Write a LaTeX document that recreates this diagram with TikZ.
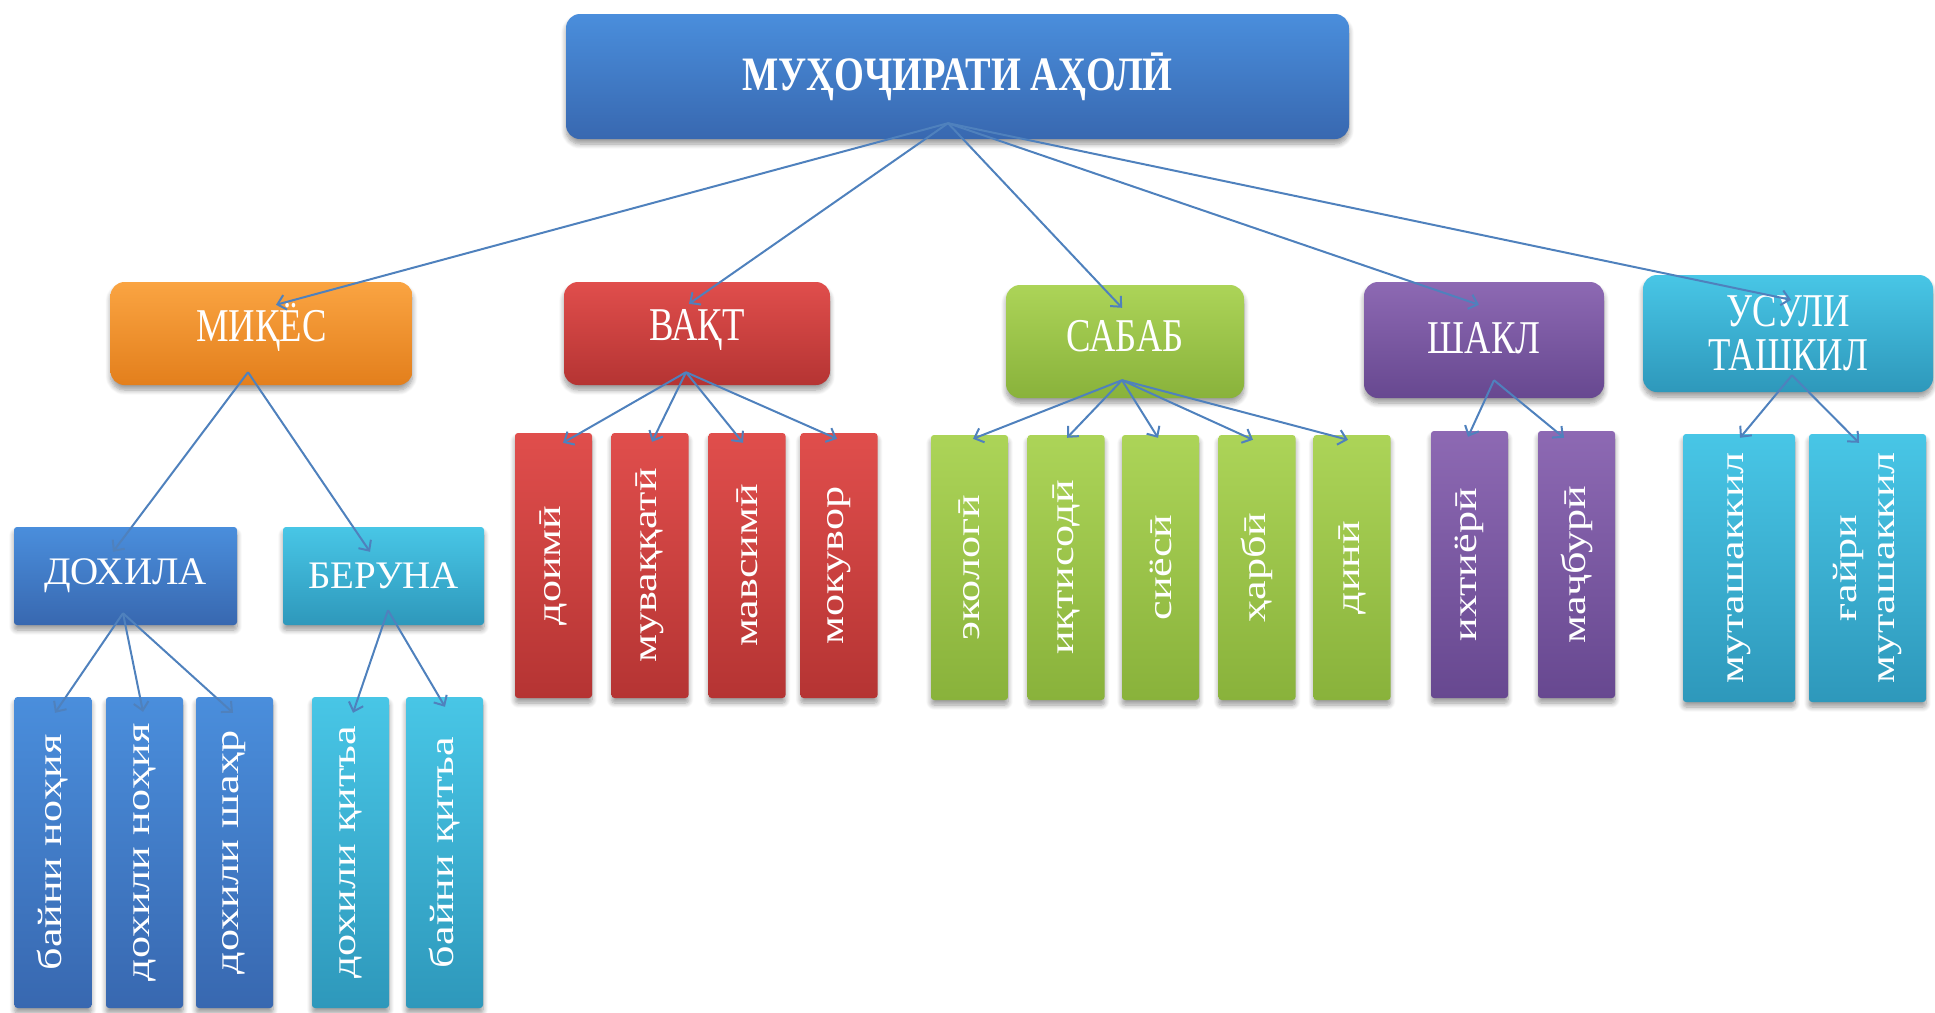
\documentclass[tikz,border=0pt]{standalone}
\usepackage{fontspec}
\setmainfont{Liberation Serif}
\newfontfamily\ttlfont[FakeStretch=0.8]{Liberation Serif}
\newfontfamily\lvfont[FakeStretch=0.78]{Liberation Serif}
\newfontfamily\vfont[FakeStretch=1.3]{Liberation Serif}
\usetikzlibrary{arrows.meta,shadows.blur,calc}
\definecolor{bluT}{HTML}{4A8EDC}
\definecolor{bluB}{HTML}{3868B0}
\definecolor{orgT}{HTML}{FAA442}
\definecolor{orgB}{HTML}{E37F1C}
\definecolor{redT}{HTML}{E04E4C}
\definecolor{redB}{HTML}{B53433}
\definecolor{grnT}{HTML}{ACD458}
\definecolor{grnB}{HTML}{89B23B}
\definecolor{prpT}{HTML}{8D69B3}
\definecolor{prpB}{HTML}{674890}
\definecolor{cynT}{HTML}{48C6E6}
\definecolor{cynB}{HTML}{2E98BB}
\definecolor{arrc}{HTML}{4F81BD}
\newcommand\upby[2]{\raisebox{#1}[\height][\depth]{#2}}
\tikzset{
  box/.style={draw=none, inner sep=0pt, text=white,
    blur shadow={shadow xshift=0pt, shadow yshift=-5pt, shadow blur radius=5pt, shadow blur steps=8, shadow opacity=40}},
  bigbox/.style={box, rounded corners=14pt},
  midbox/.style={box, rounded corners=3pt},
  bar/.style={box, rounded corners=3pt, minimum width=77pt},
  cblue/.style={top color=bluT, bottom color=bluB},
  corange/.style={top color=orgT, bottom color=orgB},
  cred/.style={top color=redT, bottom color=redB},
  cgreen/.style={top color=grnT, bottom color=grnB},
  cpurple/.style={top color=prpT, bottom color=prpB},
  ccyan/.style={top color=cynT, bottom color=cynB},
  lvtwo/.style={font=\lvfont\fontsize{47}{44}\selectfont, align=center},
  lvthree/.style={font=\fontsize{39}{42}\selectfont},
  vtxt/.style={rotate=90, text=white, inner sep=0pt, align=center,
    font=\vfont\fontsize{34}{38}\selectfont},
  arr/.style={draw=arrc, line width=2pt, -{Straight Barb[length=8pt,width=15pt]}}
}
\begin{document}
\begin{tikzpicture}[x=1pt,y=-1pt]
\useasboundingbox (0,0) rectangle (1935,1012);
\clip (0,0) rectangle (1935,1012);
% top
\node[bigbox, cblue, minimum width=783pt, minimum height=125pt,
  font=\ttlfont\bfseries\fontsize{48}{52}\selectfont] (top) at (957.5,76.5) {МУҲОҶИРАТИ АҲОЛӢ};
% level 2
\node[bigbox, corange, lvtwo, minimum width=302pt, minimum height=103pt] (mik) at (261.5,333.5) {\upby{6pt}{МИҚЁС}};
\node[bigbox, cred, lvtwo, minimum width=266pt, minimum height=103pt] (vaq) at (697,333.5) {\upby{4pt}{ВАҚТ}};
\node[bigbox, cgreen, lvtwo, minimum width=238pt, minimum height=113pt] (sab) at (1125,341.5) {\upby{5pt}{САБАБ}};
\node[bigbox, cpurple, lvtwo, minimum width=240pt, minimum height=116pt] (sha) at (1484,340) {\upby{2pt}{ШАКЛ}};
\node[bigbox, ccyan, lvtwo, minimum width=290pt, minimum height=117pt] (usu) at (1788,333.5) {УСУЛИ\\ТАШКИЛ};
% level 3
\node[midbox, cblue, lvthree, minimum width=223pt, minimum height=98pt] (dok) at (125.5,576) {ДОХИЛА};
\node[midbox, ccyan, lvthree, minimum width=201pt, minimum height=98pt] (ber) at (383.5,576) {БЕРУНА};
% red bars
\node[bar, cred, minimum height=265pt] (v1) at (553.5,565.5) {};
\node[bar, cred, minimum height=265pt] (v2) at (650,565.5) {};
\node[bar, cred, minimum height=265pt] (v3) at (747,565.5) {};
\node[bar, cred, minimum height=265pt] (v4) at (839,565.5) {};
% green bars
\node[bar, cgreen, minimum height=265pt] (g1) at (969.5,567.5) {};
\node[bar, cgreen, minimum height=265pt] (g2) at (1066,567.5) {};
\node[bar, cgreen, minimum height=265pt] (g3) at (1160.5,567.5) {};
\node[bar, cgreen, minimum height=265pt] (g4) at (1257,567.5) {};
\node[bar, cgreen, minimum height=265pt] (g5) at (1352,567.5) {};
% purple bars
\node[bar, cpurple, minimum height=267pt] (p1) at (1469.5,564.5) {};
\node[bar, cpurple, minimum height=267pt] (p2) at (1576.5,564.5) {};
% cyan bars right
\node[bar, ccyan, minimum width=112pt, minimum height=268pt] (c1) at (1739,568) {};
\node[bar, ccyan, minimum width=117pt, minimum height=268pt] (c2) at (1867.5,568) {};
% bottom bars
\node[bar, cblue, minimum height=311pt] (b1) at (53,852.5) {};
\node[bar, cblue, minimum height=311pt] (b2) at (144.5,852.5) {};
\node[bar, cblue, minimum height=311pt] (b3) at (234.5,852.5) {};
\node[bar, ccyan, minimum height=311pt] (b4) at (350.5,852.5) {};
\node[bar, ccyan, minimum height=311pt] (b5) at (444.5,852.5) {};
% vertical texts
\node[vtxt] (v1t) at (v1) {доимӣ};
\node[vtxt] (v2t) at (v2) {муваққатӣ};
\node[vtxt] (v3t) at (v3) {мавсимӣ};
\node[vtxt] (v4t) at (v4) {мокувор};
\node[vtxt] (g1t) at (g1) {экологӣ};
\node[vtxt] (g2t) at (g2) {иқтисодӣ};
\node[vtxt] (g3t) at (g3) {сиёсӣ};
\node[vtxt] (g4t) at (g4) {ҳарбӣ};
\node[vtxt] (g5t) at (g5) {динӣ};
\node[vtxt] (p1t) at (p1) {ихтиёрӣ};
\node[vtxt] (p2t) at (p2) {маҷбурӣ};
\node[vtxt] (c1t) at (c1) {муташаккил};
\node[vtxt] (c2t) at (c2) {ғайри\\муташаккил};
\node[vtxt] (b1t) at (b1) {байни ноҳия};
\node[vtxt] (b2t) at (b2) {дохили ноҳия};
\node[vtxt] (b3t) at (b3) {дохили шаҳр};
\node[vtxt] (b4t) at (b4) {дохили қитъа};
\node[vtxt] (b5t) at (b5) {байни қитъа};
% origins
\coordinate (topo) at ($(top.south)+(-9.5,-16)$);
\coordinate (miko) at ($(mik.south)+(-13.5,-13)$);
\coordinate (vaqo) at ($(vaq.south)+(-11,-13)$);
\coordinate (sabo) at ($(sab.south)+(-3,-18)$);
\coordinate (shao) at ($(sha.south)+(10,-18)$);
\coordinate (usuo) at ($(usu.south)+(4,-17)$);
\coordinate (doko) at ($(dok.south)+(-2.5,-12)$);
\coordinate (bero) at ($(ber.south)+(4.5,-15)$);
% arrows
\draw[arr] (topo) -- ($(mik.north)+(14.5,23)$);
\draw[arr] (topo) -- ($(vaq.north)+(-8,22)$);
\draw[arr] (topo) -- ($(sab.north)+(-3,23)$);
\draw[arr] (topo) -- ($(sha.north)+(-5,23)$);
\draw[arr] (topo) -- ($(usu.north)+(3,25)$);
\draw[arr] (miko) -- ($(dok.north)+(-12.5,25)$);
\draw[arr] (miko) -- ($(ber.north)+(-13.5,25)$);
\draw[arr] (vaqo) -- ($(v1.north)+(9.5,10)$);
\draw[arr] (vaqo) -- ($(v2.north)+(2,9)$);
\draw[arr] (vaqo) -- ($(v3.north)+(-4,10)$);
\draw[arr] (vaqo) -- ($(v4.north)+(-2,6)$);
\draw[arr] (sabo) -- ($(g1.north)+(3.5,4)$);
\draw[arr] (sabo) -- ($(g2.north)+(1,3)$);
\draw[arr] (sabo) -- ($(g3.north)+(-2.5,3)$);
\draw[arr] (sabo) -- ($(g4.north)+(-4,5)$);
\draw[arr] (sabo) -- ($(g5.north)+(-4,5)$);
\draw[arr] (shao) -- ($(p1.north)+(-1.5,6)$);
\draw[arr] (shao) -- ($(p2.north)+(-12.5,7)$);
\draw[arr] (usuo) -- ($(c1.north)+(1,4)$);
\draw[arr] (usuo) -- ($(c2.north)+(-8.5,9)$);
\draw[arr] (doko) -- ($(b1.north)+(2,16)$);
\draw[arr] (doko) -- ($(b2.north)+(-1.5,15)$);
\draw[arr] (doko) -- ($(b3.north)+(-1.5,16)$);
\draw[arr] (bero) -- ($(b4.north)+(2.5,16)$);
\draw[arr] (bero) -- ($(b5.north)+(0.5,10)$);
\end{tikzpicture}
\end{document}
